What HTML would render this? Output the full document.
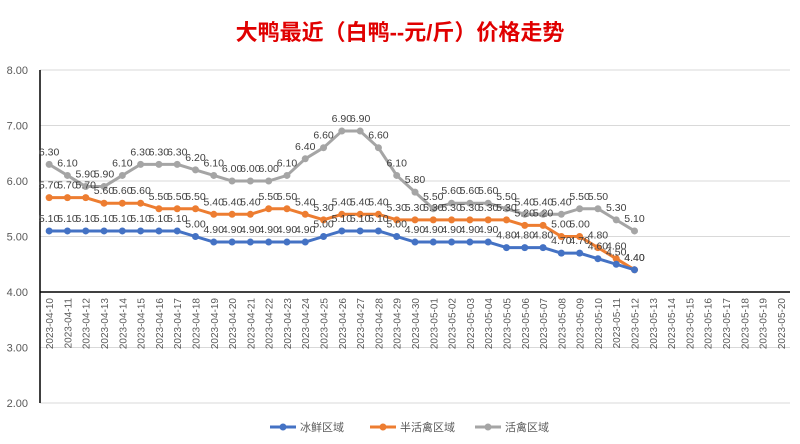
<!DOCTYPE html>
<html><head><meta charset="utf-8"><style>
body{margin:0;background:#fff;}
svg{display:block;font-family:"Liberation Sans","Noto Sans CJK SC",sans-serif;}
</style></head><body>
<svg id="s" width="800" height="444" xmlns="http://www.w3.org/2000/svg">
<text x="400" y="40" text-anchor="middle" font-size="22" font-weight="bold" fill="#e00000" font-family="Liberation Sans,Noto Sans CJK SC,sans-serif">大鸭最近（白鸭--元/斤）价格走势</text>
</svg>
<script>
const s=document.getElementById('s');const NS='http://www.w3.org/2000/svg';
function el(t,a,txt){const e=document.createElementNS(NS,t);for(const k in a)e.setAttribute(k,a[k]);if(txt!=null)e.textContent=txt;s.appendChild(e);return e;}
const L=40,R=790,Y=v=>70+(8-v)*55.5;const n=41,w=(R-L)/n;const X=i=>L+w*(i+0.5);
for(let v=2;v<=8;v++){el('line',{x1:L,x2:R,y1:Y(v),y2:Y(v),stroke:'#d9d9d9','stroke-width':1});
el('text',{x:28,y:Y(v)+4,'text-anchor':'end','font-size':11,fill:'#595959'},v.toFixed(2));}
el('line',{x1:L,x2:L,y1:70,y2:403,stroke:'#000','stroke-width':1.5});
el('line',{x1:L,x2:R,y1:Y(4),y2:Y(4),stroke:'#000','stroke-width':1.5});
const d0=new Date(Date.UTC(2023,3,10));
for(let i=0;i<n;i++){const d=new Date(d0.getTime()+i*864e5);const t=d.toISOString().slice(0,10);
const x=X(i)+4,y=298;el('text',{x:x,y:y,'text-anchor':'end','font-size':10,fill:'#595959',transform:`rotate(-90 ${x} ${y})`},t);}
const blue=[5.1,5.1,5.1,5.1,5.1,5.1,5.1,5.1,5.0,4.9,4.9,4.9,4.9,4.9,4.9,5.0,5.1,5.1,5.1,5.0,4.9,4.9,4.9,4.9,4.9,4.8,4.8,4.8,4.7,4.7,4.6,4.5,4.4];
const org=[5.7,5.7,5.7,5.6,5.6,5.6,5.5,5.5,5.5,5.4,5.4,5.4,5.5,5.5,5.4,5.3,5.4,5.4,5.4,5.3,5.3,5.3,5.3,5.3,5.3,5.3,5.2,5.2,5.0,5.0,4.8,4.6,4.4];
const gry=[6.3,6.1,5.9,5.9,6.1,6.3,6.3,6.3,6.2,6.1,6.0,6.0,6.0,6.1,6.4,6.6,6.9,6.9,6.6,6.1,5.8,5.5,5.6,5.6,5.6,5.5,5.4,5.4,5.4,5.5,5.5,5.3,5.1];
function series(a,c){el('polyline',{points:a.map((v,i)=>X(i)+','+Y(v)).join(' '),fill:'none',stroke:c,'stroke-width':3,'stroke-linejoin':'round'});
a.forEach((v,i)=>el('circle',{cx:X(i),cy:Y(v),r:3.5,fill:c}));}
function labels(a){a.forEach((v,i)=>el('text',{x:X(i),y:Y(v)-9,'text-anchor':'middle','font-size':10.5,fill:'#404040'},v.toFixed(2)));}
series(gry,'#a5a5a5');series(org,'#ed7d31');series(blue,'#4472c4');
labels(gry);labels(org);labels(blue);
const lg=[[270,'#4472c4','冰鲜区域'],[370,'#ed7d31','半活禽区域'],[475,'#a5a5a5','活禽区域']];
lg.forEach(([x,c,t])=>{el('line',{x1:x,x2:x+26,y1:427,y2:427,stroke:c,'stroke-width':3});el('circle',{cx:x+13,cy:427,r:3.5,fill:c});
el('text',{x:x+30,y:431,'font-size':11,fill:'#595959'},t);});
</script>
</body></html>
